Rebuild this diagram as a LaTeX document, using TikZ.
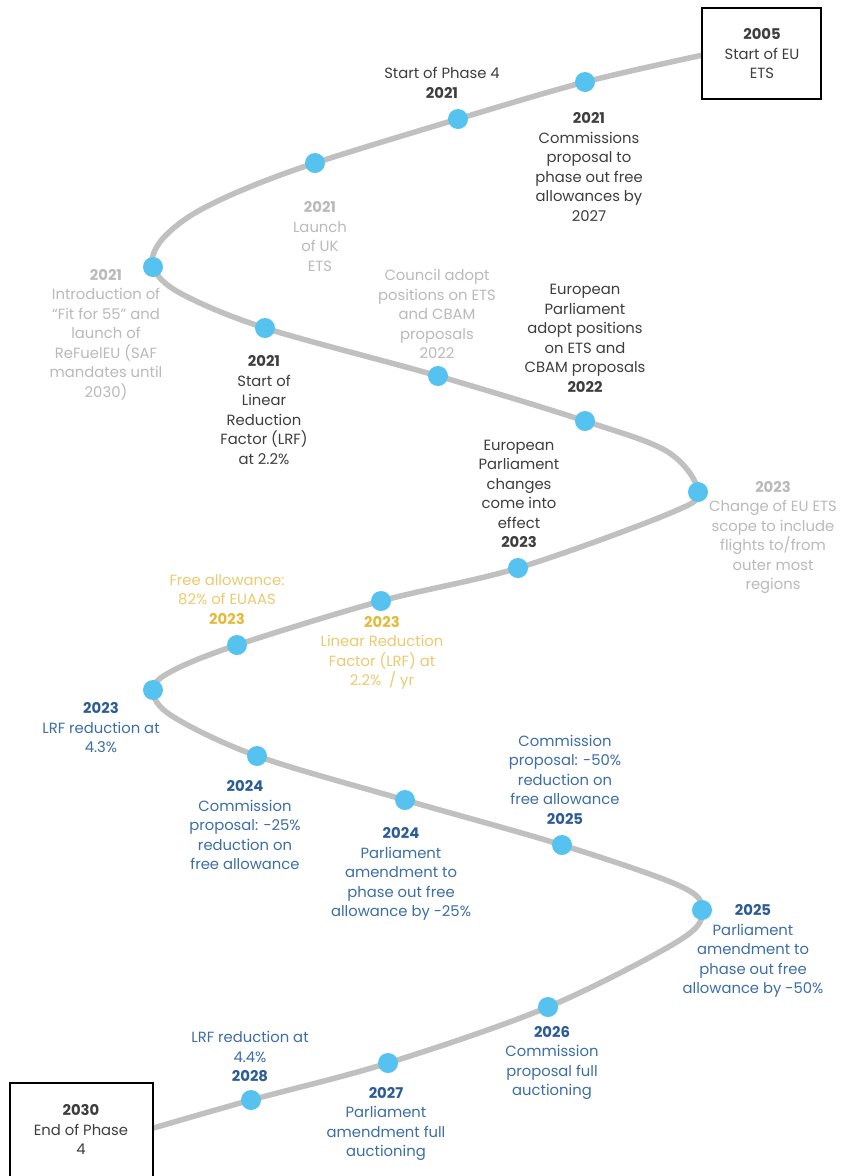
\documentclass[tikz,border=0pt]{standalone}
\usepackage{fontspec}
\setmainfont{Poppins}
\definecolor{lineg}{RGB}{192,192,192}
\definecolor{dotb}{RGB}{86,194,240}
\definecolor{darkt}{RGB}{62,62,62}
\definecolor{lightt}{RGB}{186,186,186}
\definecolor{goldy}{RGB}{228,186,58}
\definecolor{goldt}{RGB}{236,202,110}
\definecolor{bluey}{RGB}{44,92,150}
\definecolor{bluet}{RGB}{60,110,168}
\newcommand{\yrD}[1]{\textbf{#1}}
\newcommand{\yrG}[1]{\textcolor{goldy}{\textbf{#1}}}
\newcommand{\yrB}[1]{\textcolor{bluey}{\textbf{#1}}}
\tikzset{
  evdot/.style={circle, fill=dotb, minimum size=20pt, inner sep=0pt},
  lbl/.style={align=center, inner sep=0pt, font=\fontsize{14.8}{19.5}\selectfont},
  dk/.style={lbl, text=darkt},
  lt/.style={lbl, text=lightt},
  gd/.style={lbl, text=goldt},
  bl/.style={lbl, text=bluet},
  yrbox/.style={draw=black, line width=2pt, fill=white},
  snake/.style={draw=lineg, line width=5.5pt, line cap=round}
}
\begin{document}
\begin{tikzpicture}[x=1pt, y=-1pt]
\useasboundingbox (0,0) rectangle (842,1176);
\clip (0,0) rectangle (842,1176);
\fill[white] (0,0) rectangle (842,1176);

% curve coordinates
\coordinate (s0) at (703,55);
\coordinate (pA) at (585,82);
\coordinate (pB) at (458,119);
\coordinate (pC) at (315,163);
\coordinate (k1) at (240,191);
\coordinate (k2) at (190,216);
\coordinate (k3) at (160,242);
\coordinate (pD) at (153,267);
\coordinate (k4) at (180,293);
\coordinate (pE) at (265,328);
\coordinate (pF) at (438,376);
\coordinate (pG) at (585,421);
\coordinate (k5) at (668,452);
\coordinate (pH) at (698,492);
\coordinate (k7) at (668,514);
\coordinate (pI) at (518,568);
\coordinate (pJ) at (381,601);
\coordinate (pK) at (237,645);
\coordinate (k9) at (172,671);
\coordinate (pL) at (153,690);
\coordinate (k10) at (172,716);
\coordinate (pM) at (257,756);
\coordinate (pN) at (405,800);
\coordinate (pO) at (562,845);
\coordinate (k12) at (680,886);
\coordinate (pP) at (702,910);
\coordinate (k13) at (680,940);
\coordinate (pQ) at (548,1007);
\coordinate (pR) at (388,1063);
\coordinate (pS) at (251,1100);
\coordinate (e0) at (150,1129);

\draw[snake] plot[smooth, tension=0.55] coordinates {(s0) (pA) (pB) (pC) (k1) (k2) (k3) (pD) (k4) (pE) (pF) (pG) (k5) (pH) (k7) (pI) (pJ) (pK) (k9) (pL) (k10) (pM) (pN) (pO) (k12) (pP) (k13) (pQ) (pR) (pS) (e0)};

% boxes
\node[yrbox, minimum width=119pt, minimum height=91pt] (b2005) at (761.5,53.5) {};
\node[dk] (t2005) at (762,54) {\yrD{2005}\\Start of EU\\ETS};
\node[yrbox, minimum width=143pt, minimum height=110pt] (b2030) at (81.5,1138) {};
\node[dk] (t2030) at (81,1129.5) {\yrD{2030}\\End of Phase\\4};

% dots
\foreach \p in {pA,pB,pC,pD,pE,pF,pG,pH,pI,pJ,pK,pL,pM,pN,pO,pP,pQ,pR,pS}
  \node[evdot] (d\p) at (\p) {};

% labels
\node[dk] (tPh4) at (442,83) {Start of Phase 4\\\yrD{2021}};
\node[dk] (tCom21) at (589,167) {\yrD{2021}\\Commissions\\proposal to\\phase out free\\allowances by\\2027};
\node[lt] (tUK) at (320,236.5) {\textbf{2021}\\Launch\\of UK\\ETS};
\node[lt] (tFit) at (106,334.5) {\textbf{2021}\\Introduction of\\“Fit for 55” and\\launch of\\ReFuelEU (SAF\\mandates until\\2030)};
\node[dk] (tLRF21) at (264,410) {\yrD{2021}\\Start of\\Linear\\Reduction\\Factor (LRF)\\at 2.2\%};
\node[lt] (tCouncil) at (437,314) {Council adopt\\positions on ETS\\and CBAM\\proposals\\2022};
\node[dk] (tEPadopt) at (585,338.5) {European\\Parliament\\adopt positions\\on ETS and\\CBAM proposals\\\yrD{2022}};
\node[dk] (tEPchg) at (519,494) {European\\Parliament\\changes\\come into\\effect\\\yrD{2023}};
\node[lt] (tScope) at (773,537.5) {\textbf{2023}\\Change of EU ETS\\scope to include\\flights to/from\\outer most\\regions};
\node[gd] (tFree) at (227,599.5) {Free allowance:\\82\% of EUAAS\\\yrG{2023}};
\node[gd] (tLRF23) at (382,653) {\yrG{2023}\\Linear Reduction\\Factor (LRF) at\\2.2\%~~/ yr};
\node[bl] (tLRF43) at (101,728) {\yrB{2023}\\LRF reduction at\\4.3\%};
\node[bl] (tCom24) at (245,825.5) {\yrB{2024}\\Commission\\proposal: -25\%\\reduction on\\free allowance};
\node[bl] (tParl24) at (401,874) {\yrB{2024}\\Parliament\\amendment to\\phase out free\\allowance by -25\%};
\node[bl] (tCom25) at (565,779.5) {Commission\\proposal: -50\%\\reduction on\\free allowance\\\yrB{2025}};
\node[bl] (tParl25) at (753,951) {\yrB{2025}\\Parliament\\amendment to\\phase out free\\allowance by -50\%};
\node[bl] (tCom26) at (552,1063) {\yrB{2026}\\Commission\\proposal full\\auctioning};
\node[bl] (tParl27) at (386,1124) {\yrB{2027}\\Parliament\\amendment full\\auctioning};
\node[bl] (tLRF44) at (250,1056.5) {LRF reduction at\\4.4\%\\\yrB{2028}};
\end{tikzpicture}
\end{document}
